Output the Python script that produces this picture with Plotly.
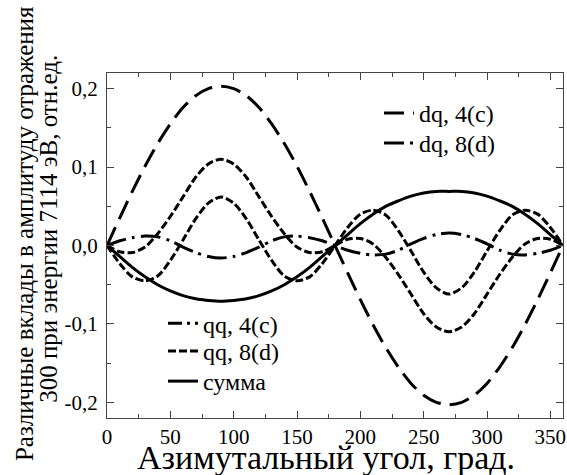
import plotly.graph_objects as go

theta = list(range(0, 361, 10))

dq4c = [0, 0.035, 0.069, 0.101, 0.130, 0.155, 0.176, 0.191, 0.200, 0.203,
        0.200, 0.191, 0.176, 0.155, 0.130, 0.101, 0.069, 0.035, 0,
        -0.035, -0.069, -0.101, -0.130, -0.155, -0.176, -0.191, -0.200, -0.203,
        -0.200, -0.191, -0.176, -0.155, -0.130, -0.101, -0.069, -0.035, 0]

dq8d = [0, 0.006, 0.010, 0.012, 0.011, 0.006, -0.002, -0.009, -0.014, -0.016,
        -0.014, -0.009, -0.002, 0.006, 0.011, 0.012, 0.010, 0.006, 0,
        -0.006, -0.010, -0.012, -0.011, -0.006, 0.002, 0.009, 0.014, 0.016,
        0.014, 0.009, 0.002, -0.006, -0.011, -0.012, -0.010, -0.006, 0]

qq4c = [0, -0.008, -0.009, -0.002, 0.015, 0.037, 0.062, 0.087, 0.104, 0.110,
        0.104, 0.087, 0.062, 0.037, 0.015, -0.002, -0.009, -0.008, 0,
        0.008, 0.009, 0.002, -0.015, -0.037, -0.062, -0.087, -0.104, -0.110,
        -0.104, -0.087, -0.062, -0.037, -0.015, 0.002, 0.009, 0.008, 0]

qq8d = [0, -0.023, -0.040, -0.045, -0.039, -0.019, 0.007, 0.034, 0.054, 0.062,
        0.054, 0.034, 0.007, -0.019, -0.039, -0.045, -0.040, -0.023, 0,
        0.023, 0.040, 0.045, 0.039, 0.019, -0.007, -0.034, -0.054, -0.062,
        -0.054, -0.034, -0.007, 0.019, 0.039, 0.045, 0.040, 0.023, 0]

summa = [0, -0.014, -0.028, -0.040, -0.050, -0.058, -0.064, -0.068, -0.070, -0.071,
         -0.070, -0.068, -0.064, -0.058, -0.050, -0.040, -0.028, -0.014, 0,
         0.014, 0.028, 0.040, 0.050, 0.057, 0.063, 0.067, 0.069, 0.069,
         0.069, 0.067, 0.063, 0.057, 0.050, 0.040, 0.028, 0.014, 0]

x_tick_vals = [0, 50, 100, 150, 200, 250, 300, 350]
x_tick_text = ["0", "50", "100", "150", "200", "250", "300", "350"]
y_tick_vals = [-0.2, -0.1, 0.0, 0.1, 0.2]
y_tick_text = ["-0,2", "-0,1", "0,0", "0,1", "0,2"]

x_title = "Азимутальный угол, град."
y_title_lines = ["Различные вклады в амплитуду отражения",
                 "300 при энергии 7114 эВ, отн.ед."]

FONT = "Liberation Serif"
W = 3

fig = go.Figure()

def add(y, name, dash, legend, showlegend=True, group=None):
    fig.add_trace(go.Scatter(
        x=theta, y=y, mode="lines", name=name,
        line=dict(color="black", width=W, dash=dash, shape="spline", smoothing=0.8),
        legend=legend, showlegend=showlegend, legendgroup=group or name,
    ))

add(dq4c, "dq, 4(c)", "20px,9px", "legend")
add(dq8d, "dq, 8(d)", "20px,6px,3px,6px", "legend2")
add(qq4c, "qq, 4(c)", "8px,3px", "legend3", showlegend=False, group="qq4")
# legend key for qq, 4(c)
fig.add_trace(go.Scatter(
    x=[None], y=[None], mode="lines", name="qq, 4(c)",
    line=dict(color="black", width=W, dash="14px,5px,3px,5px,3px,5px"),
    legend="legend3", legendgroup="qq4", hoverinfo="skip",
))
add(qq8d, "qq, 8(d)", "8px,3px", "legend4")
add(summa, "сумма", "solid", "legend5")

axis_common = dict(
    showline=True, linecolor="#444", linewidth=1, mirror="allticks",
    ticks="inside", ticklen=7, tickwidth=1, tickcolor="#444",
    showgrid=False, zeroline=False, automargin=False,
    tickfont=dict(family=FONT, size=21, color="black"),
)

def leg(x, y):
    return dict(x=x, y=y, xanchor="left", yanchor="top",
                bgcolor="rgba(0,0,0,0)", font=dict(family=FONT, size=24),
                tracegroupgap=0)

fig.update_layout(
    width=567, height=475,
    margin=dict(l=107, r=4, t=73, b=57),
    paper_bgcolor="white", plot_bgcolor="white",
    font=dict(family=FONT, size=21, color="black"),
    xaxis=dict(
        range=[0, 360], tickvals=x_tick_vals, ticktext=x_tick_text,
        minor=dict(dtick=25, tick0=0, ticks="inside", ticklen=4, tickcolor="#444"),
        **axis_common,
    ),
    yaxis=dict(
        range=[-0.22, 0.22], tickvals=y_tick_vals, ticktext=y_tick_text,
        minor=dict(dtick=0.05, tick0=0, ticks="inside", ticklen=4, tickcolor="#444"),
        ticklabelstandoff=4,
        **axis_common,
    ),
    legend=leg(0.5965, 0.948),
    legend2=leg(0.5965, 0.861),
    legend3=leg(0.1228, 0.339),
    legend4=leg(0.1228, 0.258),
    legend5=leg(0.1228, 0.171),
    annotations=[
        dict(text=x_title, xref="paper", yref="paper", x=0.48, y=-0.115,
             xanchor="center", yanchor="middle", showarrow=False,
             font=dict(family=FONT, size=34, color="black")),
        dict(text=y_title_lines[0], xref="paper", yref="paper", x=-0.182, y=0.533,
             xanchor="center", yanchor="middle", showarrow=False, textangle=-90,
             font=dict(family=FONT, size=25, color="black")),
        dict(text=y_title_lines[1], xref="paper", yref="paper", x=-0.129, y=0.549,
             xanchor="center", yanchor="middle", showarrow=False, textangle=-90,
             font=dict(family=FONT, size=25, color="black")),
    ],
)

fig.write_html("out.html", config={"displayModeBar": False},
               post_script="document.body.style.margin='0px';")
